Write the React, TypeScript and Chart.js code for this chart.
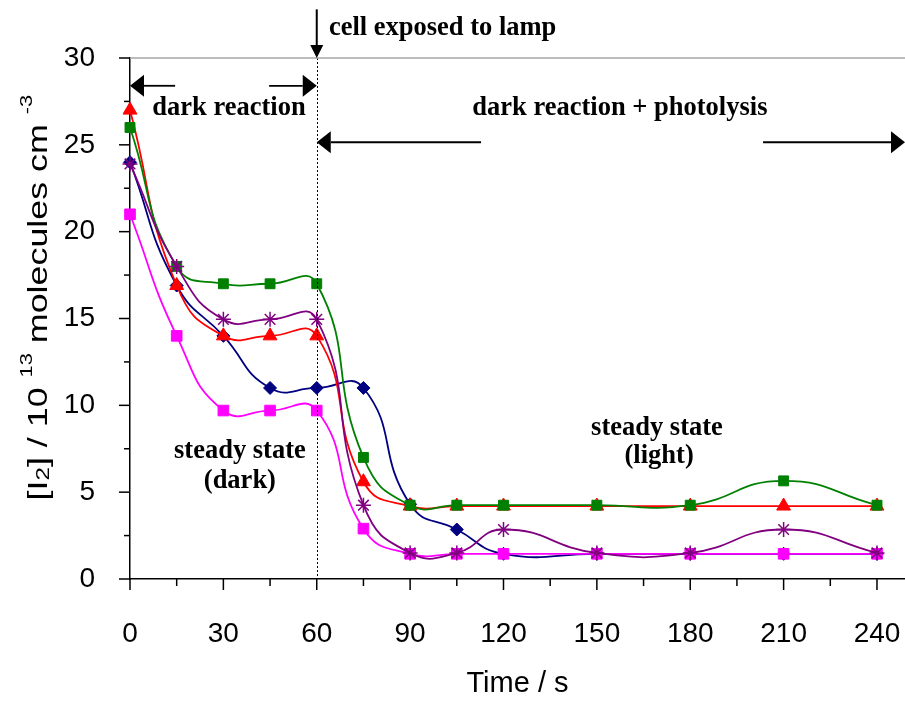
import React, { useEffect, useRef } from 'react';
import { Chart, registerables } from 'chart.js';

Chart.register(...registerables);

// ---- data ----
const times = [0, 15, 30, 45, 60, 75, 90, 105, 120, 150, 180, 210, 240];
const seriesNavy = [24, 16.9, 14, 11, 11, 11, 4.3, 2.85, 1.45, 1.45, 1.45, 1.45, 1.45];
const seriesRed = [27, 16.9, 14, 14, 14, 5.6, 4.2, 4.2, 4.2, 4.2, 4.2, 4.2, 4.2];
const seriesGreen = [26, 18, 17, 17, 17, 7, 4.25, 4.25, 4.25, 4.25, 4.25, 5.65, 4.25];
const seriesPurple = [23.9, 18, 14.95, 14.95, 14.95, 4.25, 1.5, 1.5, 2.85, 1.5, 1.5, 2.85, 1.5];
const seriesMagenta = [21, 14, 9.7, 9.7, 9.7, 2.9, 1.45, 1.45, 1.45, 1.45, 1.45, 1.45, 1.45];

const xTickLabels = ['0', '30', '60', '90', '120', '150', '180', '210', '240'];
const yTickLabels = ['0', '5', '10', '15', '20', '25', '30'];

// ---- texts ----
const xTitle = 'Time / s';
const yTitleParts = ['[I', '2', '] / 10 ', '13', ' molecules cm ', '-3'];
const textLamp = 'cell exposed to lamp';
const textDark = 'dark reaction';
const textPhoto = 'dark reaction + photolysis';
const textSteadyDark = ['steady state', '(dark)'];
const textSteadyLight = ['steady state', '(light)'];

const SANS = "'Liberation Sans', Arial, sans-serif";
const SERIF = "'Liberation Serif', 'Times New Roman', serif";

const pts = (ys: number[]) => ys.map((y, i) => ({ x: times[i], y }));

function arrow(ctx: CanvasRenderingContext2D, x1: number, y1: number, x2: number, y2: number, len: number, half: number, lw: number) {
  const ang = Math.atan2(y2 - y1, x2 - x1);
  const bx = x2 - Math.cos(ang) * len;
  const by = y2 - Math.sin(ang) * len;
  ctx.lineWidth = lw;
  ctx.beginPath();
  ctx.moveTo(x1, y1);
  ctx.lineTo(bx, by);
  ctx.stroke();
  ctx.beginPath();
  ctx.moveTo(x2, y2);
  ctx.lineTo(bx + Math.sin(ang) * half, by - Math.cos(ang) * half);
  ctx.lineTo(bx - Math.sin(ang) * half, by + Math.cos(ang) * half);
  ctx.closePath();
  ctx.fill();
}

const decor = {
  id: 'decor',
  afterDatasetsDraw(chart: any) {
    const { ctx } = chart;
    const xs = chart.scales.x;
    const ys = chart.scales.y;
    const X = (v: number) => xs.getPixelForValue(v);
    const Y = (v: number) => ys.getPixelForValue(v);
    ctx.save();
    ctx.strokeStyle = '#000';
    ctx.lineWidth = 1;
    ctx.setLineDash([2, 2]);
    ctx.beginPath();
    ctx.moveTo(Math.round(X(60)) + 0.5, Y(30));
    ctx.lineTo(Math.round(X(60)) + 0.5, Y(0));
    ctx.stroke();
    ctx.restore();
  },
  afterDraw(chart: any) {
    const { ctx, chartArea: ca } = chart;
    const xs = chart.scales.x;
    const ys = chart.scales.y;
    const X = (v: number) => xs.getPixelForValue(v);
    const Y = (v: number) => ys.getPixelForValue(v);
    ctx.save();
    // top grey frame line
    ctx.strokeStyle = '#a6a6a6';
    ctx.lineWidth = 1.5;
    ctx.beginPath();
    ctx.moveTo(ca.left, ca.top);
    ctx.lineTo(ca.right, ca.top);
    ctx.stroke();
    // tick marks
    ctx.strokeStyle = '#000';
    ctx.lineWidth = 1.5;
    for (let v = 0; v <= 240; v += 15) {
      const px = X(v);
      const len = v % 30 === 0 ? 11 : 7;
      ctx.beginPath();
      ctx.moveTo(px, ca.bottom);
      ctx.lineTo(px, ca.bottom + len);
      ctx.stroke();
    }
    for (let v = 0; v <= 30; v += 2.5) {
      const py = Y(v);
      const len = v % 5 === 0 ? 11 : 6;
      ctx.beginPath();
      ctx.moveTo(ca.left - len, py);
      ctx.lineTo(ca.left, py);
      ctx.stroke();
    }
    // arrows
    ctx.fillStyle = '#000';
    ctx.strokeStyle = '#000';
    arrow(ctx, X(60), Y(32.8), X(60), Y(30), 13, 6.5, 2);
    arrow(ctx, X(14.5), Y(28.4), X(0), Y(28.4), 14, 11, 1.8);
    arrow(ctx, X(44.7), Y(28.4), X(60), Y(28.4), 14, 11, 1.8);
    arrow(ctx, X(112.8), Y(25.15), X(60), Y(25.15), 14, 11, 1.8);
    arrow(ctx, X(203.4), Y(25.15), X(249), Y(25.15), 14, 11, 1.8);
    // annotation texts
    ctx.font = `bold 26.5px ${SERIF}`;
    ctx.textBaseline = 'alphabetic';
    ctx.textAlign = 'left';
    ctx.fillText(textLamp, X(63.9), Y(31.3));
    ctx.textAlign = 'center';
    ctx.fillText(textDark, X(31.8), Y(26.7));
    ctx.fillText(textPhoto, X(157.4), Y(26.7));
    ctx.fillText(textSteadyDark[0], X(35.3), Y(6.97));
    ctx.fillText(textSteadyDark[1], X(35.3), Y(5.24));
    ctx.fillText(textSteadyLight[0], X(169.3), Y(8.29));
    ctx.fillText(textSteadyLight[1], X(170.0), Y(6.68));
    ctx.restore();

    // y axis title with sub/superscripts
    const parts = [
      { t: yTitleParts[0], size: 28, dy: 0 },
      { t: yTitleParts[1], size: 19, dy: 2 },
      { t: yTitleParts[2], size: 28, dy: 0 },
      { t: yTitleParts[3], size: 17, dy: -15 },
      { t: yTitleParts[4], size: 28, dy: 0 },
      { t: yTitleParts[5], size: 17, dy: -15 },
    ];
    ctx.save();
    ctx.fillStyle = '#000';
    ctx.textBaseline = 'alphabetic';
    ctx.textAlign = 'left';
    let total = 0;
    const widths = parts.map((p) => {
      ctx.font = `${p.size}px ${SANS}`;
      const w = ctx.measureText(p.t).width;
      total += w;
      return w;
    });
    const stretch = 1.28;
    ctx.translate(ca.left - 83, Y(16.2));
    ctx.rotate(-Math.PI / 2);
    ctx.scale(stretch, 1);
    let cx = -total / 2;
    parts.forEach((p, i) => {
      ctx.font = `${p.size}px ${SANS}`;
      ctx.fillText(p.t, cx, p.dy);
      cx += widths[i];
    });
    ctx.restore();
  },
};

export default function App() {
  const ref = useRef<HTMLCanvasElement | null>(null);
  useEffect(() => {
    if (!ref.current) return;
    const common = { borderWidth: 1.8, tension: 0.5, fill: false, clip: false as any };
    const chart = new Chart(ref.current, {
      type: 'line',
      data: {
        datasets: [
          {
            label: 'purple',
            data: pts(seriesPurple),
            borderColor: '#800080',
            pointBackgroundColor: '#800080',
            pointBorderColor: '#800080',
            pointStyle: 'star',
            pointRadius: 7.5,
            pointBorderWidth: 1.5,
            ...common,
          } as any,
          {
            label: 'magenta',
            data: pts(seriesMagenta),
            borderColor: '#FF00FF',
            pointBackgroundColor: '#FF00FF',
            pointBorderColor: '#FF00FF',
            pointStyle: 'rect',
            pointRadius: 7.5,
            pointBorderWidth: 1,
            ...common,
          },
          {
            label: 'green',
            data: pts(seriesGreen),
            borderColor: '#008000',
            pointBackgroundColor: '#008000',
            pointBorderColor: '#008000',
            pointStyle: 'rect',
            pointRadius: 7,
            pointBorderWidth: 1,
            ...common,
          },
          {
            label: 'red',
            data: pts(seriesRed),
            borderColor: '#FF0000',
            pointBackgroundColor: '#FF0000',
            pointBorderColor: '#FF0000',
            pointStyle: 'triangle',
            pointRadius: 8,
            pointBorderWidth: 1,
            ...common,
          },
          {
            label: 'navy',
            data: pts(seriesNavy),
            borderColor: '#000080',
            pointBackgroundColor: '#000080',
            pointBorderColor: '#000080',
            pointStyle: 'rectRot',
            pointRadius: 6.5,
            pointBorderWidth: 1,
            ...common,
          },
        ],
      },
      options: {
        animation: false,
        responsive: false,
        devicePixelRatio: 1,
        layout: { autoPadding: false, padding: { top: 58, left: 0, right: 0, bottom: 0 } },
        plugins: { legend: { display: false }, tooltip: { enabled: false }, title: { display: false } },
        scales: {
          x: {
            type: 'linear',
            min: 0,
            max: 249,
            afterFit: (s: any) => {
              s.height = 122;
              s.paddingLeft = 0;
              s.paddingRight = 0;
            },
            grid: { display: false },
            border: { display: true, color: '#000', width: 1.5 },
            ticks: {
              stepSize: 15,
              includeBounds: false,
              autoSkip: false,
              maxRotation: 0,
              padding: 30,
              color: '#000',
              font: { family: SANS, size: 28 },
              callback: (v: any) => (xTickLabels.includes(String(v)) ? String(v) : ''),
            },
            title: {
              display: true,
              text: xTitle,
              color: '#000',
              font: { family: SANS, size: 29 },
              padding: { top: 0, bottom: 0 },
            },
          },
          y: {
            type: 'linear',
            min: 0,
            max: 30,
            afterFit: (s: any) => {
              s.width = 130;
              s.paddingTop = 0;
              s.paddingBottom = 0;
            },
            grid: { display: false },
            border: { display: true, color: '#000', width: 1.5 },
            ticks: {
              stepSize: 2.5,
              autoSkip: false,
              padding: 27,
              color: '#000',
              font: { family: SANS, size: 28 },
              callback: (v: any) => (yTickLabels.includes(String(v)) ? String(v) : ''),
            },
            title: { display: false },
          },
        },
      },
      plugins: [decor],
    });
    return () => chart.destroy();
  }, []);
  return (
    <div style={{ position: 'absolute', left: 0, top: 0, width: 905, height: 701, background: '#fff' }}>
      <canvas ref={ref} width={905} height={701} style={{ display: 'block' }} />
    </div>
  );
}
